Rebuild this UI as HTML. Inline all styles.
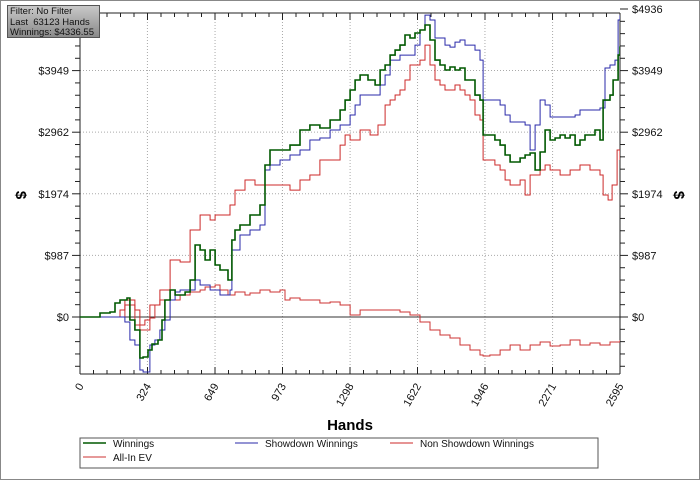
<!DOCTYPE html>
<html><head><meta charset="utf-8"><style>
body{margin:0;background:#fff;width:700px;height:480px;overflow:hidden;font-family:"Liberation Sans",sans-serif}
#frame{position:absolute;left:0;top:0;width:698px;height:478px;border:1px solid #888}
#info{position:absolute;left:7px;top:5px;width:93px;height:33px;border:1px solid #555;background:linear-gradient(#c8c8c8,#8a8a8a);font-size:9.5px;line-height:10.5px;padding:1px 2px;box-sizing:border-box;color:#111;white-space:nowrap;overflow:hidden}
</style></head><body>
<div id="frame"></div>
<svg id="chart" width="700" height="480" style="position:absolute;left:0;top:0"></svg>
<div id="info">Filter: No Filter<br>Last &nbsp;63123 Hands<br>Winnings: $4336.55</div>
<script>
const xTicks=[0,324,649,973,1298,1622,1946,2271,2595];
const yTicks=[0,987,1974,2962,3949,4936];
const yTickLabels=["$0","$987","$1974","$2962","$3949","$4936"];
const winH=[0,96,144,168,192,226,240,264,288,303,327,346,375,394,408,433,457,481,505,529,553,577,601,625,649,673,711,730,745,769,817,865,889,913,961,1009,1057,1105,1153,1202,1250,1274,1298,1322,1346,1384,1418,1442,1466,1490,1514,1538,1562,1586,1610,1634,1658,1682,1706,1730,1754,1778,1802,1826,1850,1874,1898,1922,1937,1994,2019,2043,2067,2115,2139,2163,2187,2211,2235,2259,2283,2307,2331,2355,2379,2403,2427,2475,2499,2514,2547,2562,2586,2595];
const winV=[0,64,80,224,272,304,-48,-208,-657,-641,-529,-433,-368,-48,272,433,352,352,400,593,1153,1073,913,1073,833,753,593,1234,1394,1474,1634,1794,2435,2675,2675,2755,2996,3076,3028,3156,3316,3476,3637,3797,3877,3797,3717,3957,4037,4197,4277,4357,4518,4470,4550,4598,4678,4438,4117,4037,3957,4005,3957,3989,3797,3797,3556,3476,2916,2836,2755,2595,2483,2547,2595,2627,2355,2643,2996,2836,2868,2916,2868,2916,2755,2836,2916,2996,2836,3476,3556,3797,4197,4336];
const sdH=[0,192,216,240,264,288,303,327,336,360,384,408,433,457,481,529,553,577,625,673,721,730,769,817,865,889,913,961,1009,1057,1105,1153,1202,1250,1298,1322,1346,1394,1442,1466,1490,1538,1586,1610,1634,1658,1682,1706,1754,1778,1802,1826,1850,1898,1922,1937,2019,2043,2067,2139,2163,2187,2211,2235,2259,2379,2403,2499,2523,2547,2571,2586,2595];
const sdV=[0,0,-80,-368,-448,-849,-881,-881,-448,-368,-208,-48,272,400,433,433,593,513,433,352,433,1073,1314,1394,1474,2355,2435,2515,2595,2675,2836,2868,2996,3076,3236,3397,3557,3557,3717,3877,4117,4197,4197,4357,4598,4838,4758,4470,4357,4325,4405,4438,4357,4277,4117,3477,3397,3236,3124,3076,2675,3076,3477,3397,3204,3236,3316,3348,3989,4037,4117,4758,4838];
const nsdH=[0,144,192,216,240,264,288,312,336,360,384,433,481,529,577,625,649,673,721,745,793,841,961,1009,1057,1105,1153,1202,1250,1274,1298,1346,1394,1432,1466,1490,1514,1538,1562,1586,1610,1634,1658,1682,1706,1730,1754,1802,1826,1850,1874,1898,1922,1937,1994,2019,2043,2067,2115,2139,2163,2211,2235,2259,2307,2355,2403,2451,2499,2514,2538,2557,2581,2595];
const nsdV=[0,0,112,272,272,112,-128,-48,192,192,433,913,881,1394,1634,1554,1634,1634,1794,2034,2195,2115,2115,2034,2195,2275,2515,2515,2755,2916,2836,2996,2916,3076,3397,3477,3557,3637,3797,4037,4037,4117,4357,4037,3797,3717,3637,3717,3637,3557,3477,3236,3156,2515,2435,2355,2195,2115,2195,1954,2275,2355,2435,2355,2275,2355,2435,2355,2275,1954,1874,2115,2676,2515];
const evH=[0,192,216,240,264,288,312,336,360,384,433,481,529,577,601,649,673,711,745,793,817,865,913,961,985,1009,1057,1153,1202,1250,1298,1346,1490,1538,1586,1634,1682,1730,1778,1826,1874,1922,1937,1970,2019,2067,2115,2163,2211,2259,2307,2355,2403,2451,2499,2547,2595];
const evV=[0,0,192,192,-128,-208,-208,-16,192,272,272,352,400,433,480,513,433,352,400,352,384,433,400,433,272,304,272,224,240,192,32,112,112,80,32,-80,-208,-288,-336,-448,-529,-609,-625,-609,-529,-448,-529,-448,-400,-465,-448,-368,-448,-416,-448,-400,-368];

const svg=document.getElementById('chart');const NS='http://www.w3.org/2000/svg';
const L=80,R=620,T=13,B=374;
const xs=h=>L+h/2595*(R-L);
const ys=v=>317-v/987*61.6;
function mk(t,a,p){const e=document.createElementNS(NS,t);for(const k in a)e.setAttribute(k,a[k]);(p||svg).appendChild(e);return e;}
const clip=mk('clipPath',{id:'pc'});mk('rect',{x:L,y:T,width:R-L,height:B-T},clip);
xTicks.forEach((h,i)=>{if(i>0&&i<xTicks.length-1){const g=mk('line',{x1:xs(h),x2:xs(h),y1:T,y2:B,stroke:'#aaa','stroke-dasharray':'1,2'});

}});
yTicks.forEach(v=>{if(v>0&&v<4936){const g=mk('line',{x1:L,x2:R,y1:ys(v),y2:ys(v),stroke:'#aaa','stroke-dasharray':'1,2'});

}});
const zl=mk('line',{x1:L,x2:R,y1:ys(0),y2:ys(0),stroke:'#333'});


[[L,T,L,B],[R,T,R,B],[L,T,R,T],[L,B,R,B]].forEach(a=>{const e=mk('line',{x1:a[0],y1:a[1],x2:a[2],y2:a[3],stroke:'#222'});

});
for(let i=0;i<=40;i++){const h=i*2595/40;const len=i%5==0?7:4;const x=xs(h);
mk('line',{x1:x,x2:x,y1:B,y2:B-len,stroke:'#222'});mk('line',{x1:x,x2:x,y1:T,y2:T+len,stroke:'#222'});}
xTicks.forEach(h=>{const t=mk('text',{x:0,y:0,'font-size':11,'text-anchor':'end',fill:'#111',transform:`translate(${xs(h)+4},${B+12}) rotate(-60)`});t.textContent=h;

});
const step=987/5;
for(let v=-4*step;v<=4936.1;v+=step){const y=ys(v);const maj=Math.abs(Math.round(v/step))%5==0;const len=maj?8:5;
mk('line',{x1:L-len,x2:L,y1:y,y2:y,stroke:'#222'});mk('line',{x1:R,x2:R+len,y1:y,y2:y,stroke:'#222'});}
yTicks.forEach((v,i)=>{const a=mk('text',{x:69,y:ys(v)+4,'font-size':11,'text-anchor':'end',fill:'#111'});a.textContent=yTickLabels[i];


const b=mk('text',{x:632,y:ys(v)+4,'font-size':11,fill:'#111'});b.textContent=yTickLabels[i];

});
const yl=mk('text',{x:0,y:0,'font-size':15,'font-weight':'bold','text-anchor':'middle',transform:'translate(16,195) rotate(90)'});yl.textContent='$';


const yr=mk('text',{x:0,y:0,'font-size':15,'font-weight':'bold','text-anchor':'middle',transform:'translate(674,195) rotate(90)'});yr.textContent='$';


const xl=mk('text',{x:350,y:430,'font-size':15,'font-weight':'bold','text-anchor':'middle'});xl.textContent='Hands';


function stepPath(H,V){let d='M'+xs(H[0])+','+ys(V[0]);for(let i=1;i<H.length;i++){d+=' H'+xs(H[i]).toFixed(1)+' V'+ys(V[i]).toFixed(1);}return d;}
const series=[[evH,evV,'#cc3333',1,'series-all-in-ev'],[nsdH,nsdV,'#cc2a2a',1,'series-non-showdown-winnings'],[sdH,sdV,'#2a2aaa',1,'series-showdown-winnings'],[winH,winV,'#005800',1.6,'series-winnings']];
series.forEach(s=>{const p=mk('path',{d:stepPath(s[0],s[1]),fill:'none',stroke:s[2],'stroke-width':s[3],'clip-path':'url(#pc)'});

});
const lg=mk('g',{});


mk('rect',{x:80,y:438,width:518,height:30,fill:'#fff',stroke:'#555'},lg);
const items=[['Winnings','#005800',83,447,1.6],['Showdown Winnings','#2a2aaa',235,447,1],['Non Showdown Winnings','#cc2a2a',390,447,1],['All-In EV','#cc3333',83,461,1]];
items.forEach(it=>{const g=mk('g',{},lg);


mk('line',{x1:it[2],x2:it[2]+23,y1:it[3]-4,y2:it[3]-4,stroke:it[1],'stroke-width':it[4]},g);
const t=mk('text',{x:it[2]+30,y:it[3],'font-size':10,fill:'#111'},g);t.textContent=it[0];});
</script>
</body></html>
